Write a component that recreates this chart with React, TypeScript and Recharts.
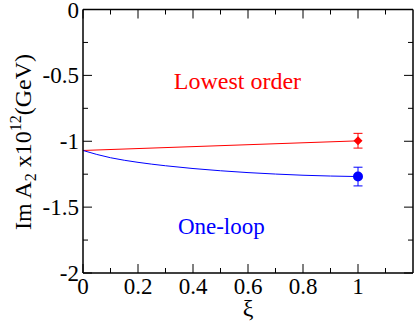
import React from "react";
import {
  ComposedChart,
  Line,
  Scatter,
  ErrorBar,
  XAxis,
  YAxis,
  ReferenceLine,
  ReferenceDot,
} from "recharts";

const FONT = "'Liberation Serif', 'Times New Roman', serif";
const RED = "#ff0000";
const BLUE = "#0000ff";

// plot frame (pixels), used only for drawing inward tick marks
const PLOT_TOP = 9.5;
const PLOT_BOTTOM = 273;
const PLOT_LEFT = 83;
const PLOT_RIGHT = 413;

// x axis: xi
const xTicks = [0, 0.1, 0.2, 0.3, 0.4, 0.5, 0.6, 0.7, 0.8, 0.9, 1, 1.1];
// y axis: Im A2 x 10^12
const yTicks = [0, -0.25, -0.5, -0.75, -1, -1.25, -1.5, -1.75, -2];

// lowest order line
const lowestXi = [0, 1];
const lowestVal = [-1.07, -0.997];

// one-loop curve
const loopXi = [0, 0.05, 0.1, 0.2, 0.3, 0.4, 0.5, 0.6, 0.7, 0.8, 0.9, 1];
const loopVal = [-1.07, -1.1, -1.125, -1.16, -1.186, -1.207, -1.224, -1.238, -1.249, -1.258, -1.264, -1.268];

// points with error bars at xi = 1
const lowestPoint = { x: 1, y: -0.996, err: 0.056 };
const loopPoint = { x: 1, y: -1.268, err: 0.071 };

const lowestData = lowestXi.map((x, i) => ({ x, y: lowestVal[i] }));
const loopData = loopXi.map((x, i) => ({ x, y: loopVal[i] }));

const fmt = (v: number) => String(Math.round(v * 10) / 10);

const XTick = (props: any) => {
  const { x, payload } = props;
  const v = payload.value;
  const major = Math.abs(v * 5 - Math.round(v * 5)) < 1e-6;
  const len = major ? 9 : 5;
  return (
    <g>
      <line x1={x} x2={x} y1={PLOT_BOTTOM} y2={PLOT_BOTTOM - len} stroke="#000" />
      <line x1={x} x2={x} y1={PLOT_TOP} y2={PLOT_TOP + len} stroke="#000" />
      {major && (
        <text x={x} y={PLOT_BOTTOM + 21} textAnchor="middle" fontSize={23} fontFamily={FONT} fill="#000">
          {fmt(v)}
        </text>
      )}
    </g>
  );
};

const YTick = (props: any) => {
  const { y, payload } = props;
  const v = payload.value;
  const major = Math.abs(v * 2 - Math.round(v * 2)) < 1e-6;
  const len = major ? 9 : 5;
  return (
    <g>
      <line x1={PLOT_LEFT} x2={PLOT_LEFT + len} y1={y} y2={y} stroke="#000" />
      <line x1={PLOT_RIGHT} x2={PLOT_RIGHT - len} y1={y} y2={y} stroke="#000" />
      {major && (
        <text x={PLOT_LEFT - 4} y={y + 8} textAnchor="end" fontSize={23} fontFamily={FONT} fill="#000">
          {fmt(v)}
        </text>
      )}
    </g>
  );
};

const YLabel = () => (
  <text
    x={31}
    y={142}
    transform="rotate(-90 31 142)"
    textAnchor="middle"
    fontSize={24}
    fontFamily={FONT}
    fill="#000"
  >
    Im A<tspan fontSize={16} dy={5}>2</tspan>
    <tspan dy={-5}> x10</tspan>
    <tspan fontSize={16} dy={-10}>12</tspan>
    <tspan dy={10}>(GeV)</tspan>
  </text>
);

const XLabel = () => (
  <text x={248} y={316} textAnchor="middle" fontSize={24} fontFamily={FONT} fill="#000">
    ξ
  </text>
);

const Diamond = (props: any) => {
  const { cx, cy } = props;
  const r = 4.5;
  return <polygon points={`${cx},${cy - r} ${cx + r},${cy} ${cx},${cy + r} ${cx - r},${cy}`} fill={RED} />;
};

const Dot = (props: any) => <circle cx={props.cx} cy={props.cy} r={5} fill={BLUE} />;

const Note = (text: string, color: string, size: number) => (props: any) => (
  <text x={props.cx} y={props.cy} fontSize={size} fontFamily={FONT} fill={color}>
    {text}
  </text>
);

export default function App() {
  return (
    <div>
      <style>{"body{margin:0}"}</style>
      <ComposedChart width={415} height={325} margin={{ top: 9.5, right: 2, bottom: 0, left: 0 }}>
        <XAxis
          dataKey="x"
          type="number"
          domain={[0, 1.2]}
          ticks={xTicks}
          tick={<XTick />}
          tickSize={0}
          tickMargin={0}
          tickLine={false}
          height={52}
          axisLine={{ stroke: "#000", strokeWidth: 1.5 }}
          label={<XLabel />}
          interval={0}
        />
        <YAxis
          type="number"
          domain={[-2, 0]}
          ticks={yTicks}
          tick={<YTick />}
          tickSize={0}
          tickMargin={0}
          tickLine={false}
          width={83}
          axisLine={{ stroke: "#000", strokeWidth: 1.5 }}
          label={<YLabel />}
          interval={0}
        />
        <ReferenceLine y={0} stroke="#000" strokeWidth={1.5} />
        <ReferenceLine x={1.2} stroke="#000" strokeWidth={1.5} />
        <Line
          data={lowestData}
          dataKey="y"
          type="linear"
          stroke={RED}
          strokeWidth={1}
          dot={false}
          isAnimationActive={false}
        />
        <Line
          data={loopData}
          dataKey="y"
          type="monotone"
          stroke={BLUE}
          strokeWidth={1}
          dot={false}
          isAnimationActive={false}
        />
        <Scatter data={[lowestPoint]} dataKey="y" shape={<Diamond />} isAnimationActive={false}>
          <ErrorBar dataKey="err" direction="y" width={4.5} stroke={RED} strokeWidth={1} />
        </Scatter>
        <Scatter data={[loopPoint]} dataKey="y" shape={<Dot />} isAnimationActive={false}>
          <ErrorBar dataKey="err" direction="y" width={4.5} stroke={BLUE} strokeWidth={1} />
        </Scatter>
        <ReferenceDot x={0.33} y={-0.606} r={0} shape={Note("Lowest order", RED, 24)} ifOverflow="visible" />
        <ReferenceDot x={0.345} y={-1.706} r={0} shape={Note("One-loop", BLUE, 23)} ifOverflow="visible" />
      </ComposedChart>
    </div>
  );
}
